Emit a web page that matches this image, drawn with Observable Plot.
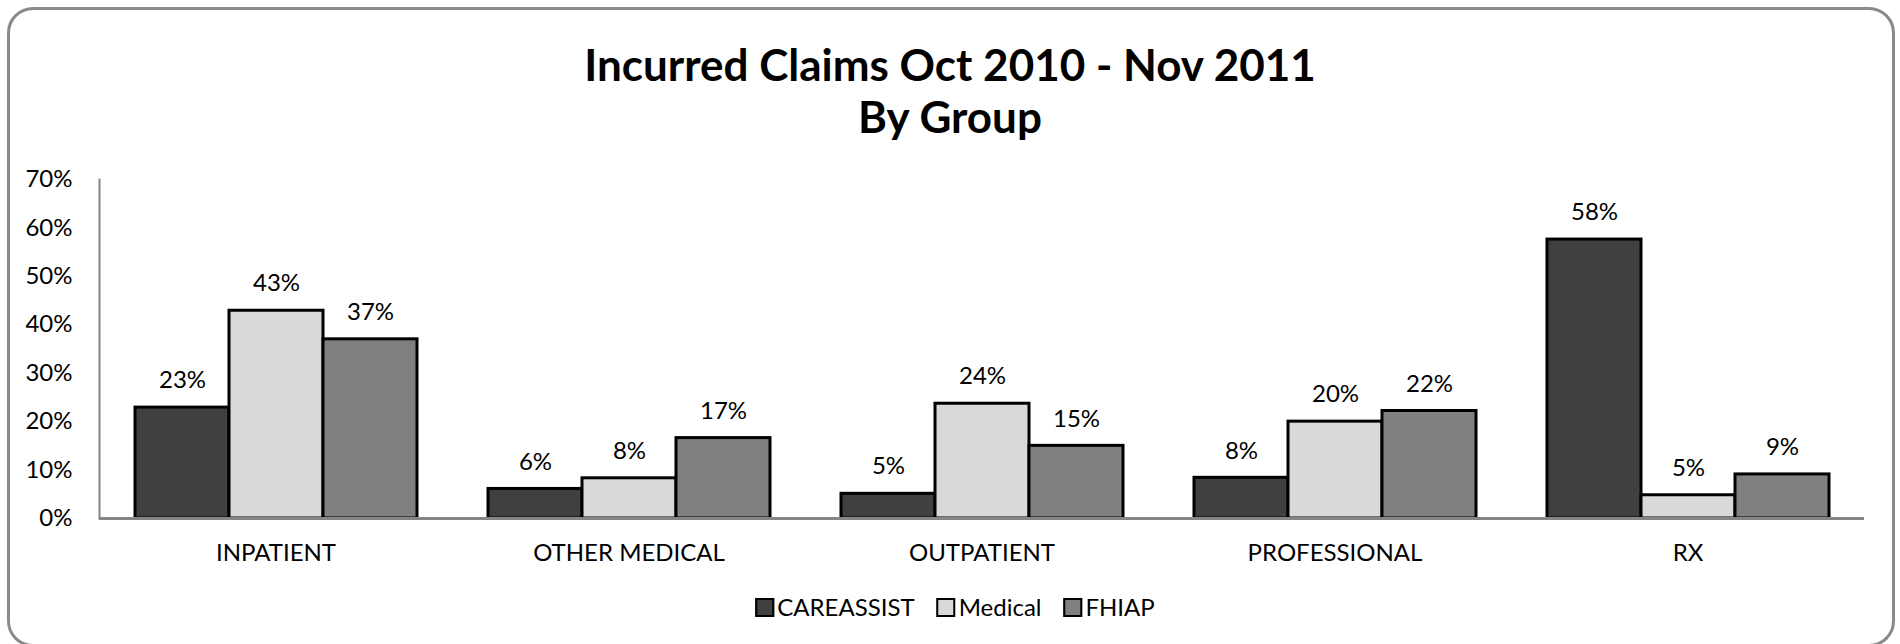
<!DOCTYPE html>
<html>
<head>
<meta charset="utf-8">
<script src="https://cdn.jsdelivr.net/npm/d3@7"></script>
<script src="https://cdn.jsdelivr.net/npm/@observablehq/plot@0.6"></script>
<style>
  body { margin: 0; background: #fff; }
  #page { position: relative; width: 1900px; height: 644px; overflow: hidden; font-family: Lato, "Open Sans", sans-serif; color: #000; }
  #frame { position: absolute; left: 7px; top: 7px; width: 1888px; height: 640px; box-sizing: border-box; border: 3.5px solid #8a8a8a; border-radius: 26px; }
  #title { position: absolute; left: 0; top: 38px; width: 1900px; text-align: center; font-weight: bold; font-size: 44px; line-height: 52px; }
  #chart { position: absolute; left: 0; top: 150px; }
  #legend { position: absolute; left: 955px; top: 592px; transform: translateX(-50%); display: flex; align-items: center; gap: 22px; font-size: 24px; line-height: 30px; white-space: nowrap; }
  .item { display: flex; align-items: center; gap: 3px; }
  .sw { width: 15px; height: 15px; border: 2px solid #000; box-sizing: content-box; }
</style>
</head>
<body>
<div id="page">
  <div id="frame"></div>
  <div id="title"></div>
  <div id="chart"></div>
  <div id="legend"></div>
</div>
<script>
const titleLines = ["Incurred Claims Oct 2010 - Nov 2011", "By Group"];
const categories = ["INPATIENT", "OTHER MEDICAL", "OUTPATIENT", "PROFESSIONAL", "RX"];
const series = ["CAREASSIST", "Medical", "FHIAP"];
const careassist = [22.9, 6.1, 5.1, 8.4, 57.6];
const medical = [42.9, 8.3, 23.7, 20.0, 4.8];
const fhiap = [37.0, 16.6, 15.0, 22.2, 9.1];
const colors = ["#404040", "#d9d9d9", "#808080"];
const yTicks = [0, 10, 20, 30, 40, 50, 60, 70];

const seriesValues = [careassist, medical, fhiap];
const rows = categories.flatMap((c, i) => series.map((s, j) => ({cat: c, series: s, value: seriesValues[j][i]})));

document.getElementById("title").innerHTML = titleLines.map(t => `<div>${t}</div>`).join("");

const chart = Plot.plot({
  width: 1900,
  height: 430,
  marginLeft: 97,
  marginRight: 34,
  marginTop: 29,
  marginBottom: 62,
  style: {fontFamily: "Lato, 'Open Sans', sans-serif", fontSize: "24px", color: "#000", background: "transparent", overflow: "visible"},
  fx: {domain: categories, padding: 0, label: null},
  x: {domain: series, paddingInner: 0, paddingOuter: 0.375, axis: null},
  y: {domain: [0, 70], label: null},
  color: {domain: series, range: colors},
  marks: [
    Plot.axisY(yTicks, {tickSize: 0, tickPadding: 27, tickFormat: d => d + "%", fontSize: 24, label: null}),
    Plot.axisFx({anchor: "bottom", tickSize: 0, tickPadding: 25, fontSize: 24, label: null}),
    Plot.barY(rows, {fx: "cat", x: "series", y: "value", fill: "series", stroke: "#000", strokeWidth: 3}),
    Plot.text(rows, {fx: "cat", x: "series", y: "value", text: d => Math.round(d.value) + "%", dy: -27, fontSize: 24, fill: "#000"}),
    Plot.ruleY([0], {stroke: "#868686", strokeWidth: 3}),
    Plot.frame({anchor: "left", facetAnchor: "left", stroke: "#868686", strokeWidth: 2})
  ]
});
document.getElementById("chart").appendChild(chart);

const legend = document.getElementById("legend");
series.forEach((s, j) => {
  const item = document.createElement("div");
  item.className = "item";
  const sw = document.createElement("span");
  sw.className = "sw";
  sw.style.background = colors[j];
  const label = document.createElement("span");
  label.textContent = s;
  item.appendChild(sw);
  item.appendChild(label);
  legend.appendChild(item);
});
</script>
</body>
</html>
